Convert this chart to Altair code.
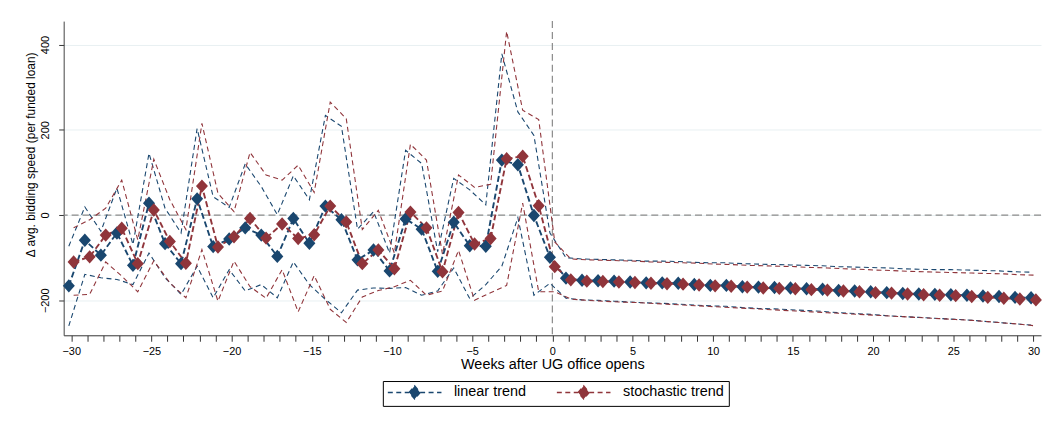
import altair as alt
import pandas as pd

# ---------------- data ----------------
weeks = list(range(-30, 31))
series_names = ["linear trend", "stochastic trend"]
series_colors = ["#1a476f", "#90353b"]

lin_pt = [-166, -59, -94, -42, -118, 28, -67, -114, 38, -74,
          -56, -30, -47, -97, -8, -66, 21, -11, -105, -82,
          -131, -9, -33, -132, -17, -72, -73, 129, 118, -1,
          -99,
          -148, -153, -154, -155, -157, -159, -159, -160, -163, -165,
          -165, -168, -169, -170, -171, -173, -174, -177, -178, -180,
          -182, -184, -185, -186, -187, -188, -190, -191, -193, -194]
lin_hi = [-73, 19, -38, 63, -69, 145, 16, -42, 203, 43,
          18, 120, 67, 1, 92, 36, 234, 208, -33, 8,
          -89, 152, 121, -86, 86, 59, 24, 378, 242, 187,
          -42,
          -100, -103, -104, -105, -106, -108, -108, -109, -111, -112,
          -112, -114, -115, -116, -117, -118, -119, -121, -122, -123,
          -124, -126, -127, -128, -128, -129, -130, -131, -133, -134]
lin_lo = [-260, -139, -147, -151, -163, -89, -147, -186, -120, -194,
          -128, -178, -163, -194, -110, -163, -198, -229, -176, -171,
          -172, -170, -188, -178, -124, -196, -163, -120, -6, -188,
          -160,
          -195, -199, -200, -202, -204, -206, -207, -209, -211, -213,
          -214, -217, -219, -220, -222, -224, -226, -229, -231, -233,
          -236, -238, -240, -242, -244, -246, -249, -252, -255, -258]

sto_pt = [-110, -98, -47, -31, -114, 12, -62, -113, 68, -75,
          -51, -8, -54, -21, -55, -46, 21, -16, -114, -82,
          -126, 7, -30, -133, 6, -68, -55, 132, 138, 22,
          -121,
          -152, -155, -156, -157, -158, -160, -161, -162, -164, -166,
          -167, -169, -171, -172, -173, -175, -176, -178, -180, -182,
          -183, -185, -187, -188, -189, -191, -193, -195, -197, -199]
sto_hi = [-30, -11, 16, 82, -58, 131, 36, -34, 215, 51,
          8, 147, 94, 82, 117, 53, 265, 226, -34, 11,
          -89, 166, 129, -92, 94, 65, 72, 431, 246, 224,
          -63,
          -103, -105, -106, -107, -108, -110, -111, -112, -113, -115,
          -116, -118, -119, -120, -121, -123, -124, -126, -127, -129,
          -130, -132, -133, -134, -135, -136, -137, -138, -140, -141]
sto_lo = [-188, -186, -110, -143, -180, -107, -159, -194, -81, -202,
          -108, -168, -195, -128, -227, -142, -221, -252, -192, -177,
          -168, -153, -188, -178, -83, -200, -182, -165, 28, -180,
          -180,
          -197, -200, -202, -204, -205, -207, -209, -211, -213, -215,
          -217, -219, -221, -223, -225, -227, -229, -231, -233, -235,
          -237, -239, -241, -243, -245, -247, -250, -253, -256, -260]

x_title = "Weeks after UG office opens"
y_title = "\u0394 avg. bidding speed (per funded loan)"

# ---------------- tables ----------------
pt_rows = []
for s, vals in zip(series_names, [lin_pt, sto_pt]):
    for w, v in zip(weeks, vals):
        pt_rows.append({"series": s, "week": w, "value": v})
pts_df = pd.DataFrame(pt_rows)

ci_rows = []
for s, lo, hi in zip(series_names, [lin_lo, sto_lo], [lin_hi, sto_hi]):
    for w, v in zip(weeks, lo):
        ci_rows.append({"series": s, "week": w, "bound": "lo", "value": v})
    for w, v in zip(weeks, hi):
        ci_rows.append({"series": s, "week": w, "bound": "hi", "value": v})
ci_df = pd.DataFrame(ci_rows)

zero_df = pd.DataFrame({"zero": [0]})

shift_expr = "datum.week + (datum.series == 'linear trend' ? -0.15 : 0.15)"

FONT = "Liberation Sans"
xscale = alt.Scale(domain=[-30.47, 30.47], nice=False, zero=False)
yscale = alt.Scale(domain=[-282, 455], nice=False, zero=False)
cscale = alt.Scale(domain=series_names, range=series_colors)

xaxis = alt.Axis(
    values=weeks,
    labelExpr="datum.value % 5 == 0 ? format(datum.value, 'd') : ''",
    labelOverlap=False, labelFontSize=11, labelPadding=4,
    tickSize=6, tickColor="#333", domainColor="#333", grid=False,
    title=x_title, titleFontSize=14.5, titleFontWeight="normal",
    titleY=33, titleBaseline="alphabetic",
)
yaxis = alt.Axis(
    values=[-200, 0, 200, 400], labelAngle=270, labelAlign="center",
    labelBaseline="bottom", labelFontSize=11, labelPadding=8,
    tickSize=5, tickColor="#333", domainColor="#444",
    grid=True, gridColor="#e8f0f2", gridWidth=1,
    title=y_title, titleFontSize=12, titleFontWeight="normal",
    titleX=-33.5, titleY=134, titleAngle=270, titleAlign="center",
    titleBaseline="middle",
)

X = alt.X("xpos:Q", scale=xscale, axis=xaxis)
Y = alt.Y("value:Q", scale=yscale, axis=yaxis)

# legend glyph: dashed line with a diamond in the middle (unit = 6.5 px)
legend_symbol = ("M-4.15,0L-0.85,0M0.85,0L4.15,0"
                 "M0,-1L0.85,0L0,1L-0.85,0Z")
legend = alt.Legend(
    title=None, orient="none", legendX=321, legendY=362,
    direction="horizontal", padding=4, strokeColor="#000",
    fillColor="white", columnPadding=27,
    symbolType=legend_symbol, symbolSize=169, symbolStrokeWidth=1.5,
    symbolDash=[5, 3.5], symbolOffset=20.5, labelOffset=32,
    labelFontSize=14.5, labelFont=FONT, labelColor="#000",
)

hrule = alt.Chart(zero_df).mark_rule(
    color="#8a8a8a", strokeDash=[7, 4], strokeWidth=1.2
).encode(y=alt.Y("zero:Q", scale=yscale, axis=yaxis))

vrule = alt.Chart(zero_df).mark_rule(
    color="#8a8a8a", strokeDash=[7, 4], strokeWidth=1.2
).encode(x=alt.X("zero:Q", scale=xscale, axis=xaxis))

ci_lines = alt.Chart(ci_df).transform_calculate(xpos=shift_expr).mark_line(
    strokeDash=[5, 3.5], strokeWidth=1.1
).encode(
    x=X, y=Y, detail="bound:N",
    color=alt.Color("series:N", scale=cscale),
)

main_lines = alt.Chart(pts_df).transform_calculate(xpos=shift_expr).mark_line(
    strokeDash=[6, 3], strokeWidth=1.9
).encode(
    x=X, y=Y,
    color=alt.Color("series:N", scale=cscale),
)

markers = alt.Chart(pts_df).transform_calculate(xpos=shift_expr).mark_point(
    filled=True, shape="M-0.9,0L0,-1L0.9,0L0,1Z", size=110, opacity=1
).encode(
    x=X, y=Y,
    color=alt.Color("series:N", scale=cscale, legend=legend),
    stroke=alt.Stroke("series:N", scale=cscale, legend=legend),
)

chart = alt.layer(hrule, vrule, ci_lines, main_lines, markers).properties(
    width=983, height=316,
    autosize=alt.AutoSizeParams(type="none"),
    padding={"left": 56, "top": 12, "right": 4, "bottom": 80},
    background="white",
).configure_view(stroke=None).configure_axis(
    labelFont=FONT, titleFont=FONT, labelColor="#000", titleColor="#000"
)

chart.save("out.html", embed_options={"renderer": "svg", "actions": False})
